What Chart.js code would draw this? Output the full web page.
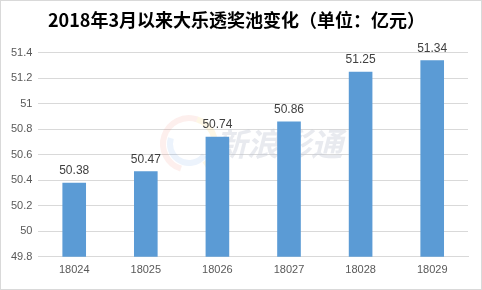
<!DOCTYPE html>
<html>
<head>
<meta charset="utf-8">
<script src="https://cdn.jsdelivr.net/npm/chart.js@4"></script>
<style>
  html, body { margin: 0; padding: 0; background: #fff; }
  #wrap { position: relative; width: 480px; height: 288px; border: 1px solid #d9d9d9; }
</style>
</head>
<body>
<div id="wrap"><canvas id="BarChart" width="480" height="288"></canvas></div>
<script>
const categories = ['18024', '18025', '18026', '18027', '18028', '18029'];
const poolValues = [50.38, 50.47, 50.74, 50.86, 51.25, 51.34];
const titleText = '2018年3月以来大乐透奖池变化（单位：亿元）';

// faint watermark behind the bars, plus value labels above each bar
const extras = {
    id: 'extras',
    beforeDatasetsDraw(chart) {
        const ctx = chart.ctx;
        ctx.save();
        ctx.lineWidth = 6;
        ctx.strokeStyle = 'rgba(240,120,110,0.12)';
        ctx.beginPath(); ctx.arc(188, 143, 26, Math.PI * 0.6, Math.PI * 1.6); ctx.stroke();
        ctx.strokeStyle = 'rgba(250,200,80,0.15)';
        ctx.beginPath(); ctx.arc(188, 143, 26, Math.PI * 1.6, Math.PI * 2.3); ctx.stroke();
        ctx.strokeStyle = 'rgba(100,160,230,0.12)';
        ctx.beginPath(); ctx.arc(188, 143, 19, Math.PI * 0.2, Math.PI * 1.1); ctx.stroke();
        ctx.font = 'italic bold 32px "Noto Sans CJK SC"';
        ctx.fillStyle = 'rgba(195,200,212,0.38)';
        ctx.textAlign = 'left';
        ctx.textBaseline = 'middle';
        ctx.fillText('新浪彩通', 214, 143);
        ctx.restore();
    },
    afterDatasetsDraw(chart) {
        const ctx = chart.ctx;
        const meta = chart.getDatasetMeta(0);
        ctx.save();
        ctx.font = '12px "Liberation Sans", Arial';
        ctx.fillStyle = '#404040';
        ctx.textAlign = 'center';
        ctx.textBaseline = 'bottom';
        meta.data.forEach((bar, i) => {
            ctx.fillText(poolValues[i].toFixed(2), bar.x, bar.y - 6);
        });
        ctx.restore();
    }
};

const ctxBar = document.getElementById('BarChart').getContext('2d');
new Chart(ctxBar, {
    type: 'bar',
    data: {
        labels: categories,
        datasets: [{
            label: '奖池',
            data: poolValues,
            backgroundColor: '#5B9BD5',
            barPercentage: 0.33,
            categoryPercentage: 1
        }]
    },
    options: {
        responsive: false,
        animation: false,
        layout: { padding: { left: 4, right: 13, top: 0, bottom: 5 } },
        plugins: {
            legend: { display: false },
            tooltip: { enabled: false },
            title: {
                display: true,
                text: titleText,
                color: '#000',
                font: { size: 18, weight: 'bold', family: '"Noto Sans CJK SC"' },
                padding: { top: 8, bottom: 22 }
            }
        },
        scales: {
            x: {
                grid: { display: false, drawTicks: false },
                border: { color: '#d9d9d9' },
                ticks: { color: '#595959', font: { size: 11, family: '"Liberation Sans", Arial' }, padding: 7 }
            },
            y: {
                min: 49.8,
                max: 51.4,
                ticks: {
                    stepSize: 0.2,
                    color: '#595959',
                    font: { size: 11, family: '"Liberation Sans", Arial' },
                    padding: 6,
                    callback: v => Number(v.toFixed(1)).toString()
                },
                grid: { color: '#d9d9d9', drawTicks: false },
                border: { display: false }
            }
        }
    },
    plugins: [extras]
});
</script>
</body>
</html>
